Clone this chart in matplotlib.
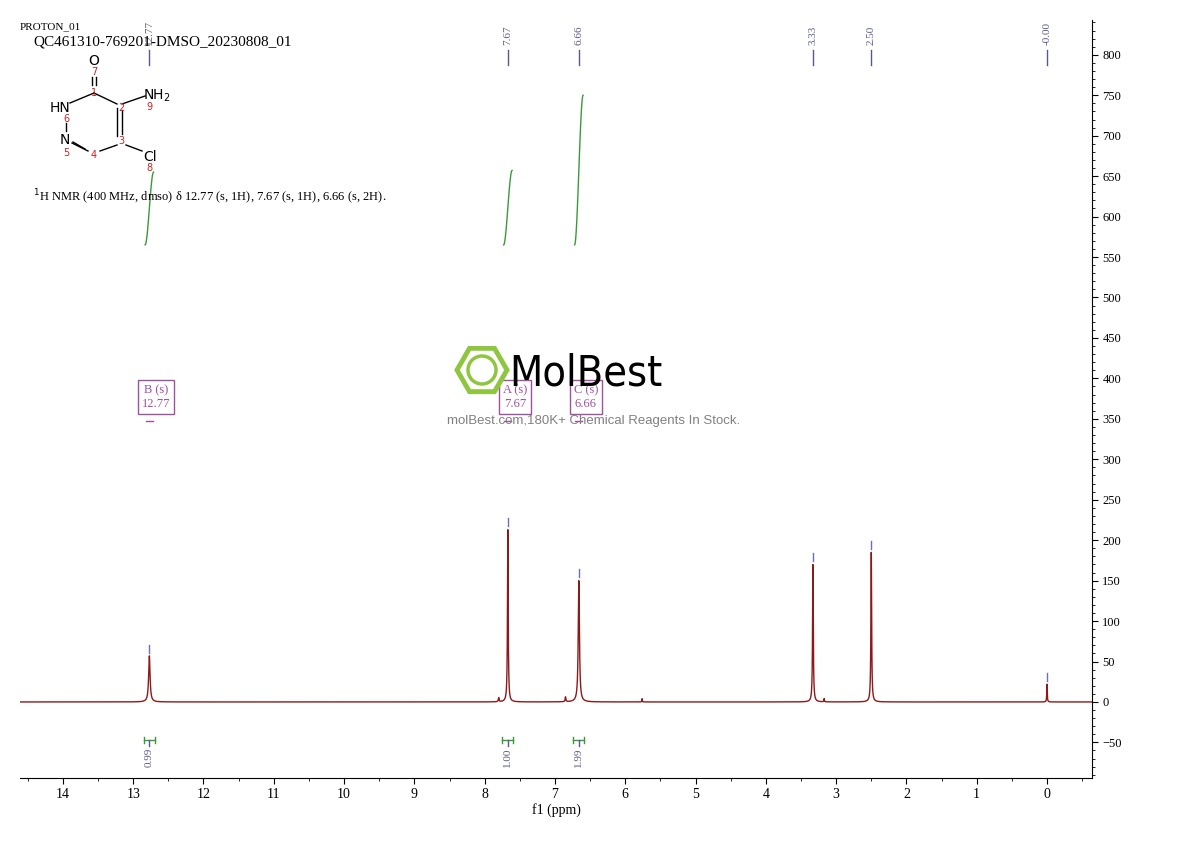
import numpy as np
import matplotlib.pyplot as plt
from matplotlib.patches import RegularPolygon, Circle

# peak data (ppm, height, half width ppm)
peak_ppm = [12.77, 7.80, 7.67, 6.85, 6.66, 5.76, 3.33, 3.17, 2.50, 0.00]
peak_height = [57, 5, 213, 6, 150, 4, 170, 4, 185, 22]
peak_width = [0.012, 0.006, 0.006, 0.006, 0.010, 0.003, 0.006, 0.004, 0.006, 0.004]

label_ppm = [12.77, 7.67, 6.66, 3.33, 2.50, 0.00]
label_txt = ["12.77", "7.67", "6.66", "3.33", "2.50", "-0.00"]

integ_ppm = [12.77, 7.67, 6.66]
integ_val = ["0.99", "1.00", "1.99"]
integ_lo = [565, 565, 565]
integ_hi = [655, 657, 750]

mult_ppm = [12.77, 7.67, 6.66]
mult_txt = ["B (s)\n12.77", "A (s)\n7.67", "C (s)\n6.66"]

serif = ["Liberation Serif", "DejaVu Serif"]

fig = plt.figure(figsize=(11.9, 8.41), dpi=100)
ax = fig.add_axes([20 / 1190, 63 / 841, 1072 / 1190, 758 / 841])

x = np.linspace(14.61, -0.64, 20000)
y = np.zeros_like(x)
for p, h, w in zip(peak_ppm, peak_height, peak_width):
    y += h * w**2 / ((x - p) ** 2 + w**2)
ax.plot(x, y, color="#8b1a1a", lw=1)

ax.set_xlim(14.61, -0.64)
ax.set_ylim(-94, 843)
for s in ["top", "left"]:
    ax.spines[s].set_visible(False)
ax.yaxis.tick_right()
ax.set_yticks(np.arange(-50, 801, 50))
ax.set_yticks(np.arange(-90, 841, 10), minor=True)
ax.set_xticks(np.arange(0, 15, 1))
ax.set_xticks(np.arange(-0.5, 14.6, 0.5), minor=True)
ax.set_yticklabels([f"{v:d}".replace("-", "\u2212") for v in range(-50, 801, 50)], fontsize=9, family=serif)
ax.set_xticklabels([str(v) for v in range(0, 15)], fontsize=10, family=serif)
ax.tick_params(which="minor", length=2)
ax.tick_params(which="major", length=4)
ax.set_xlabel("f1 (ppm)", fontsize=10, family=serif, labelpad=1)

# peak labels
for p, t, h in zip(label_ppm, label_txt, [57, 213, 150, 170, 185, 22]):
    ax.plot([p, p], [787, 806], color="#5a5a8a", lw=1)
    ax.text(p, 812, t, rotation=90, ha="center", va="bottom", fontsize=8, color="#5a5a8a", family=serif)
    ax.plot([p, p], [h + 4, h + 14], color="#7070b0", lw=1)

# integrals
for p, v, lo, hi in zip(integ_ppm, integ_val, integ_lo, integ_hi):
    yy = np.linspace(0, 1, 50)
    curve = lo + (hi - lo) * (3 * yy**2 - 2 * yy**3)
    xs = p + 0.06 - 0.12 * yy
    ax.plot(xs, curve, color="#3a9a3a", lw=1)
    ax.plot([p - 0.08, p + 0.08], [-47, -47], color="#3a9a3a", lw=1)
    ax.plot([p - 0.08, p - 0.08], [-43, -51], color="#3a9a3a", lw=1)
    ax.plot([p + 0.08, p + 0.08], [-43, -51], color="#3a9a3a", lw=1)
    ax.plot([p, p], [-47, -55], color="#5a5a8a", lw=1)
    ax.text(p, -57, v, rotation=90, ha="center", va="top", fontsize=8, color="#5a5a8a", family=serif)

# multiplet boxes
for p, t in zip(mult_ppm, mult_txt):
    ax.text(p - 0.1, 377, t, ha="center", va="center", fontsize=9, color="#a050a0", family=serif,
            bbox=dict(boxstyle="square,pad=0.3", fc="none", ec="#a050a0", lw=1))
    ax.plot([p - 0.05, p + 0.05], [347, 347], color="#a050a0", lw=1)

# overlay in pixel coords
ov = fig.add_axes([0, 0, 1, 1])
ov.set_xlim(0, 1190)
ov.set_ylim(841, 0)
ov.axis("off")
ov.text(20, 27, "PROTON_01", fontsize=8, family=serif, va="center")
ov.text(33, 42, "QC461310-769201-DMSO_20230808_01", fontsize=11, family=serif, va="center")
ov.text(33, 197, r"$^{1}$H NMR (400 MHz, dmso) δ 12.77 (s, 1H), 7.67 (s, 1H), 6.66 (s, 2H).",
        fontsize=9, family=serif, va="center")

# structure
bonds = [((94, 93), (70, 103)), ((94, 93), (117, 104)), ((122, 104), (145, 96)),
         ((126, 145), (142, 151)), ((117, 145), (100, 151)), ((88, 151), (72, 143)),
         ((66, 123), (66, 131)), ((117, 108), (117, 136)), ((122, 110), (122, 134)),
         ((92, 77), (92, 85)), ((96, 77), (96, 85)), ((85, 149), (73, 142))]
for (x0, y0), (x1, y1) in bonds:
    ov.plot([x0, x1], [y0, y1], color="black", lw=1)
for px, py, t in [(94, 61, "O"), (60, 108, "HN"), (65, 140, "N"), (157, 96, "NH$_2$"), (150, 157, "Cl")]:
    ov.text(px, py, t, fontsize=10, ha="center", va="center", family="DejaVu Sans")
for px, py, t in [(94, 72, "7"), (94, 93, "1"), (121, 108, "2"), (121, 141, "3"), (94, 155, "4"),
                  (66, 153, "5"), (66, 119, "6"), (149, 168, "8"), (149, 107, "9")]:
    ov.text(px, py, t, fontsize=7, ha="center", va="center", color="#cc2222", family="DejaVu Sans")

# watermark
ov.add_patch(RegularPolygon((482, 370), 6, radius=25, orientation=np.pi / 2, fill=False, ec="#8ec63f", lw=3.5))
ov.add_patch(Circle((482, 370), 14, fill=False, ec="#8ec63f", lw=2.5))
ov.text(509, 373, "MolBest", fontsize=31, va="center", ha="left", family="DejaVu Sans",
        color="black", fontstretch="condensed")
ov.text(594, 421, "molBest.com,180K+ Chemical Reagents In Stock.", fontsize=9.5, ha="center", va="center",
        color="#808080", family="Liberation Sans")

fig.savefig("out.png", dpi=100)
